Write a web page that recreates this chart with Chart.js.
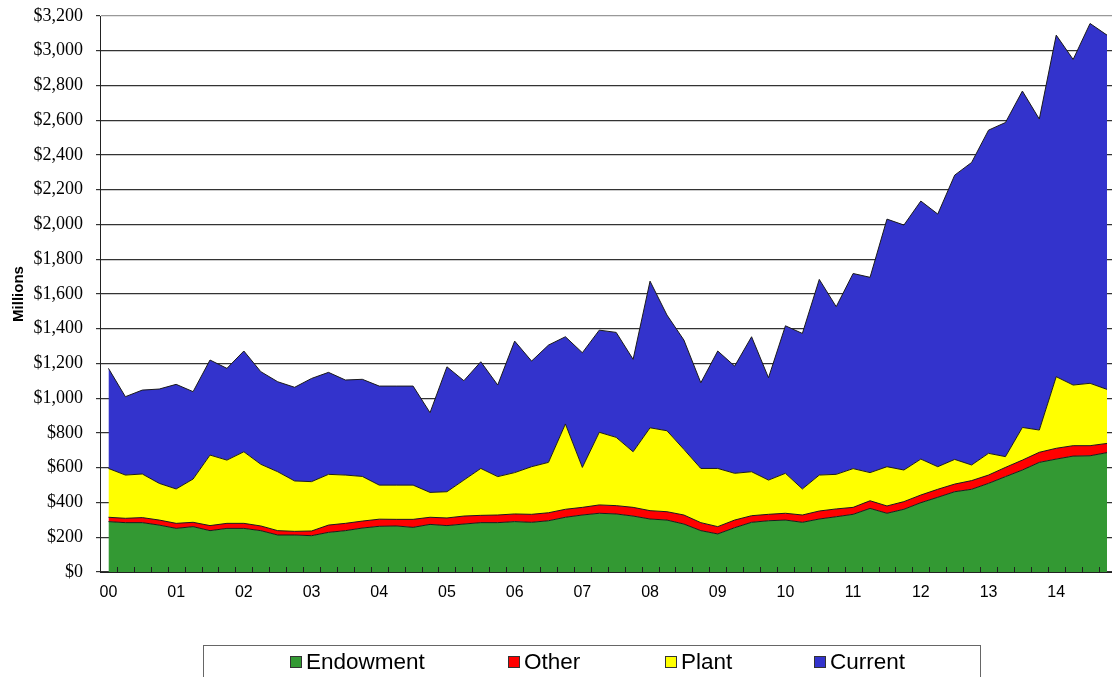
<!DOCTYPE html>
<html>
<head>
<meta charset="utf-8">
<script src="https://cdn.jsdelivr.net/npm/chart.js@4.4.1/dist/chart.umd.min.js"></script>
<style>
  html, body { margin: 0; padding: 0; overflow: hidden; background: #fff; }
  #wrap { position: relative; width: 1112px; height: 677px; overflow: hidden; }
  #legend {
    position: absolute; left: 203px; top: 645px; width: 778px; height: 40px;
    border: 1px solid #666; box-sizing: border-box;
    font-family: 'Liberation Sans', Arial, sans-serif; font-size: 22.5px; color: #000;
  }
  .item { position: absolute; top: 3px; height: 26px; display: flex; align-items: center; white-space: nowrap; }
  .swatch { width: 10px; height: 10px; border: 1px solid #333; margin-right: 4px; }
</style>
</head>
<body>
<div id="wrap">
  <canvas id="myChart" width="1118" height="677"></canvas>
  <div id="legend"></div>
</div>
<script>
// --- DATA ---
const years = ['00','01','02','03','04','05','06','07','08','09','10','11','12','13','14'];
const quarters = [];
years.forEach(y => { for (let q = 1; q <= 4; q++) quarters.push(y + ' Q' + q); });

const endowment = [290,284,284,270,251,261,238,251,251,238,213,213,209,228,238,253,263,265,257,274,
                   267,276,284,284,290,286,295,315,328,338,334,322,305,299,276,238,219,255,286,295,
                   299,286,305,318,332,366,338,361,399,430,462,476,510,549,587,631,650,667,669,687];
const other = [25,25,29,29,29,25,29,29,29,27,25,21,27,42,42,40,41,38,46,41,
               44,46,42,44,44,46,46,46,44,48,48,50,48,48,52,46,42,44,38,37,
               39,42,46,45,40,44,42,44,44,46,44,50,48,53,57,58,62,60,58,53];
const plant = [281,249,251,211,198,249,406,364,412,355,339,290,284,292,278,257,196,197,197,143,
               151,207,270,221,238,274,290,491,230,418,393,320,477,466,378,312,335,269,253,197,
               230,150,207,199,223,162,226,182,207,130,142,90,125,62,188,128,412,349,359,311];
const current = [576,451,483,543,602,503,547,528,580,533,518,539,594,587,547,559,570,570,570,459,
                 719,572,614,527,757,608,675,502,660,588,604,532,844,666,629,493,676,617,777,589,
                 849,895,1126,965,1123,1124,1425,1410,1485,1454,1636,1741,1860,1923,1936,1790,1966,1874,2071,2039];

const seriesNames = ['Endowment', 'Other', 'Plant', 'Current'];
const seriesColors = ['#339933', '#ff0000', '#ffff00', '#3333cc'];
const seriesValues = [endowment, other, plant, current];

// --- inward tick marks on the category axis ---
const innerTicks = {
    id: 'innerTicks',
    afterDatasetsDraw(chart) {
        const x = chart.scales.x;
        const bottom = chart.chartArea.bottom;
        const ctx = chart.ctx;
        ctx.save();
        ctx.strokeStyle = '#222';
        ctx.lineWidth = 1;
        ctx.beginPath();
        for (let i = 1; i < quarters.length; i++) {
            const px = Math.round((x.getPixelForValue(i - 1) + x.getPixelForValue(i)) / 2) + 0.5;
            ctx.moveTo(px, bottom);
            ctx.lineTo(px, bottom - 5);
        }
        ctx.stroke();
        ctx.restore();
    }
};

const ctx = document.getElementById('myChart').getContext('2d');
new Chart(ctx, {
    type: 'line',
    data: {
        labels: quarters,
        datasets: seriesValues.map((vals, i) => ({
            label: seriesNames[i],
            data: vals,
            backgroundColor: seriesColors[i],
            borderColor: '#1a1a1a',
            borderWidth: 1,
            pointRadius: 0,
            tension: 0,
            fill: i === 0 ? 'origin' : '-1'
        }))
    },
    options: {
        responsive: false,
        animation: false,
        layout: { padding: { top: 16, right: 0, left: 0, bottom: 0 } },
        plugins: {
            legend: { display: false },
            tooltip: { enabled: false }
        },
        scales: {
            x: {
                type: 'category',
                offset: true,
                grid: { display: true, drawOnChartArea: false, drawTicks: false, offset: true },
                border: { display: true, color: '#222', width: 1 },
                ticks: {
                    autoSkip: false,
                    maxRotation: 0,
                    padding: 11,
                    color: '#000',
                    font: { family: "'Liberation Sans', Arial, sans-serif", size: 16 },
                    callback: (v, i) => (i % 4 === 0 ? years[i / 4] : '')
                },
                afterFit: s => { s.height = 105; }
            },
            y: {
                stacked: true,
                min: 0,
                max: 3200,
                ticks: {
                    stepSize: 200,
                    padding: 13,
                    color: '#000',
                    font: { family: "'Liberation Serif', 'Times New Roman', serif", size: 18 },
                    callback: v => '$' + v.toLocaleString('en-US')
                },
                grid: {
                    color: c => (c.tick && c.tick.value === 3200 ? '#999' : '#333'),
                    lineWidth: 1.2,
                    tickLength: 4,
                    tickColor: '#333'
                },
                border: { display: true, color: '#222', width: 1 },
                title: {
                    display: true,
                    text: 'Millions',
                    color: '#000',
                    padding: { top: 10, bottom: 0 },
                    font: { family: "'Liberation Sans', Arial, sans-serif", size: 15, weight: 'bold' }
                },
                afterFit: s => {
                    s.width = 100;
                    s.paddingTop = 11;
                    s.paddingBottom = 11;
                }
            }
        }
    },
    plugins: [innerTicks]
});

// --- LEGEND (built from the series arrays) ---
const legendPos = [86, 304, 461, 610];
const legend = document.getElementById('legend');
seriesNames.forEach((name, i) => {
    const div = document.createElement('div');
    div.className = 'item';
    div.style.left = legendPos[i] + 'px';
    div.innerHTML = `<span class="swatch" style="background:${seriesColors[i]}"></span><span>${name}</span>`;
    legend.appendChild(div);
});
</script>
</body>
</html>
